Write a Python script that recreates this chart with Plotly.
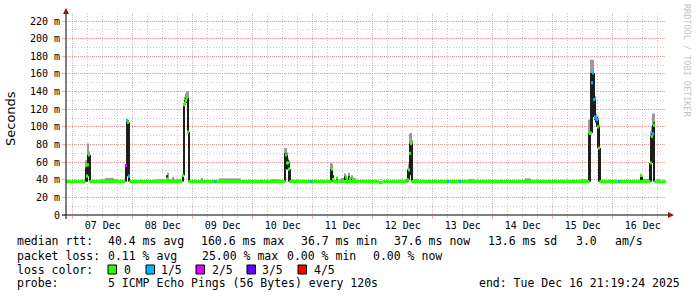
import pandas as pd
import plotly.graph_objects as go

# ---------------- data ----------------
START = "12-06 21:19:24"
END = "12-16 21:19:24"
STEP_MIN = 24          # RRA step shown (minutes per pixel column)

y_ticks = [0, 20, 40, 60, 80, 100, 120, 140, 160, 180, 200, 220]
y_tick_text = ["0", "20 m", "40 m", "60 m", "80 m", "100 m", "120 m", "140 m",
               "160 m", "180 m", "200 m", "220 m"]

loss_labels = ["0", "1/5", "2/5", "3/5", "4/5"]
loss_colors = ["#26ff00", "#00b8ff", "#dd00ff", "#5e00ff", "#ff0000"]

# baseline median segments
base_start = ["12-06 21:19:24", "12-07 06:41", "12-07 22:41", "12-08 22:17", "12-10 14:41",
              "12-11 08:17", "12-12 02:30", "12-12 04:00", "12-12 15:29", "12-15 18:41",
              "12-16 16:41"]
base_end = ["12-07 05:05", "12-07 21:05", "12-08 19:53", "12-10 13:05", "12-11 07:29",
            "12-12 02:30", "12-12 04:00", "12-12 13:53", "12-15 14:41", "12-16 15:05",
            "12-16 21:19:24"]
base_ms = [37.8, 37.8, 37.8, 37.8, 37.8, 37.8, 36.8, 37.8, 37.8, 37.8, 37.6]

# median per step where it departs from the baseline (or shows loss)
med_time = ["12-07 05:17", "12-07 05:41", "12-07 06:05", "12-07 06:29",
            "12-07 21:17", "12-07 21:41", "12-07 22:05", "12-07 22:29",
            "12-08 13:41",
            "12-08 20:05", "12-08 20:29", "12-08 20:53", "12-08 21:17", "12-08 21:41", "12-08 22:05",
            "12-09 08:53",
            "12-10 13:17", "12-10 13:41", "12-10 14:05", "12-10 14:29",
            "12-10 23:17",
            "12-11 07:41", "12-11 08:05", "12-11 09:41", "12-11 13:17", "12-11 14:53", "12-11 16:05",
            "12-12 14:05", "12-12 14:29", "12-12 14:53", "12-12 15:17",
            "12-13 06:05", "12-13 10:53",
            "12-15 14:53", "12-15 15:17", "12-15 15:41", "12-15 16:05", "12-15 16:29",
            "12-15 16:53", "12-15 17:17", "12-15 17:41", "12-15 18:05", "12-15 18:29",
            "12-16 02:29", "12-16 11:17",
            "12-16 15:17", "12-16 15:41", "12-16 16:05", "12-16 16:29"]
med_ms = [56, 44, 57, 68,
          56, 107, 105, 44,
          41,
          45, 125, 127, 130, 133, 94,
          37.8,
          68, 59, 59, 52,
          37.8,
          52, 40.5, 42, 43, 41, 41,
          40, 51, 70, 81,
          37.8, 37.8,
          92.6, 93, 150, 161, 131,
          111, 110, 108, 100, 76,
          37.8, 45,
          59, 89, 92, 102]
med_loss = [0, 0, 0, 0,
            2, 1, 0, 1,
            0,
            0, 0, 0, 0, 0, 0,
            1,
            0, 0, 0, 0,
            1,
            0, 0, 0, 0, 0, 0,
            0, 0, 0, 0,
            1, 1,
            0, 0, 1, 1, 1,
            1, 1, 1, 0, 0,
            1, 0,
            0, 0, 1, 0]

# smoke per step: dense band (lo..hi) and outer ping spread (lo..top)
smoke_time = ["12-07 05:17", "12-07 05:41", "12-07 06:05", "12-07 06:29", "12-07 06:53",
              "12-07 21:17", "12-07 21:41", "12-07 22:05", "12-07 22:29",
              "12-08 13:41", "12-08 14:05",
              "12-08 20:05", "12-08 20:29", "12-08 20:53", "12-08 21:17", "12-08 21:41",
              "12-08 22:05", "12-08 22:29",
              "12-10 12:53", "12-10 13:17", "12-10 13:41", "12-10 14:05", "12-10 14:29", "12-10 14:53",
              "12-11 07:17", "12-11 07:41", "12-11 08:05", "12-11 09:41", "12-11 12:53",
              "12-11 14:29", "12-11 15:41",
              "12-12 13:41", "12-12 14:05", "12-12 14:29", "12-12 14:53", "12-12 15:17", "12-12 15:41",
              "12-15 14:29", "12-15 14:53", "12-15 15:17", "12-15 15:41", "12-15 16:05",
              "12-15 16:29", "12-15 16:53", "12-15 17:17", "12-15 17:41", "12-15 18:05",
              "12-15 18:29", "12-15 18:53",
              "12-16 11:17", "12-16 11:41",
              "12-16 14:53", "12-16 15:17", "12-16 15:41", "12-16 16:05", "12-16 16:29"]
smoke_lo = [38, 38, 44, 57, 38,
            38, 56, 44, 38,
            38, 38,
            38, 45, 125, 127, 130, 94, 38,
            38, 59, 52, 52, 38, 38,
            38, 40, 38, 38, 38, 38, 38,
            38, 38, 40, 51, 45, 38,
            38, 38, 92, 93, 131, 111, 108, 105, 100, 76, 38, 38,
            38, 38,
            38, 38, 59, 89, 38]
smoke_hi = [57, 57, 68, 68, 68,
            56, 107, 107, 105,
            45, 39,
            45, 125, 130, 133, 133, 133, 94,
            70, 70, 68, 62, 59, 52,
            52, 52, 45, 43, 44, 44, 41,
            40, 51, 51, 81, 81, 81,
            92, 93, 161, 161, 161, 161, 131, 111, 111, 108, 100, 76,
            45, 43,
            59, 89, 92, 102, 105]
smoke_top = [62, 60, 81, 72, 68,
             56, 108, 108, 105,
             45, 48,
             46, 127, 134, 138, 140, 140, 94,
             76, 76, 71, 65, 62, 52,
             59, 58, 45, 43, 47, 48, 45,
             41, 53, 58, 92, 93, 85,
             108, 108, 176, 176, 176, 161, 135, 115, 112, 110, 102, 76,
             46, 44,
             59, 95, 100, 115, 115]

# light smoke bumps just above the baseline
bump_start = ["12-07 04:40", "12-07 11:00", "12-07 13:00", "12-07 16:30", "12-08 09:00",
              "12-08 14:30", "12-08 16:05", "12-09 03:30", "12-09 10:30", "12-10 07:15",
              "12-10 15:15", "12-11 11:15", "12-12 11:15", "12-12 16:05", "12-13 14:30",
              "12-14 12:50", "12-15 11:15", "12-16 12:05", "12-16 17:40"]
bump_end = ["12-07 05:05", "12-07 13:00", "12-07 16:30", "12-07 18:00", "12-08 13:00",
            "12-08 19:30", "12-08 16:30", "12-09 03:55", "12-09 19:15", "12-10 10:30",
            "12-10 19:15", "12-11 17:15", "12-12 13:15", "12-12 18:30", "12-13 16:30",
            "12-14 15:15", "12-15 14:05", "12-16 14:30", "12-16 18:55"]
bump_top = [40, 40.5, 42, 40.5, 40.5, 40.5, 43, 42, 41.5, 40.5,
            40, 42, 40, 40.5, 40.5, 41.5, 40.5, 41, 40.5]

stats_rows = [
    [(16, "median rtt:"), (107, "40.4 ms avg"), (200, "160.6 ms max"), (300, "36.7 ms min"),
     (393, "37.6 ms now"), (487, "13.6 ms sd"), (575, "3.0"), (614, "am/s")],
    [(16, "packet loss:"), (107, "0.11 % avg"), (201, "25.00 % max"), (286, "0.00 % min"),
     (372, "0.00 % now")],
    [(16, "loss color:")],
    [(16, "probe:"), (107, "5 ICMP Echo Pings (56 Bytes) every 120s"),
     (478, "end: Tue Dec 16 21:19:24 2025")],
]
row_y = [241.5, 255.5, 269.5, 283]
loss_box_x = [108, 146, 196, 247, 298]
loss_text_x = [123, 160, 211, 261, 313]

# ---------------- figure ----------------
W, H = 697, 297
L, R, TOP, BOT = 66, 31, 13, 82
PW, PH = W - L - R, H - TOP - BOT


def T(s):
    return pd.Timestamp("2025-" + s)


def px(x):
    return (x - L) / PW


def py(y):
    return (H - BOT - y) / PH


step_ms = STEP_MIN * 60 * 1000
MED_H = 3.6  # drawn thickness of the median (ms)

fig = go.Figure()

# light smoke
g_x, g_base, g_h, g_w = [], [], [], []
for t, lo, top in zip(smoke_time, smoke_lo, smoke_top):
    g_x.append(T(t)); g_base.append(lo); g_h.append(top - lo); g_w.append(step_ms)
for s, e, top in zip(bump_start, bump_end, bump_top):
    ts, te = T(s), T(e)
    g_x.append(ts + (te - ts) / 2); g_base.append(37); g_h.append(top - 37)
    g_w.append((te - ts).total_seconds() * 1000)
fig.add_trace(go.Bar(x=g_x, y=g_h, base=g_base, width=g_w,
                     marker=dict(color="#9a9a9a", line=dict(width=0)), hoverinfo="skip"))

# dense smoke
fig.add_trace(go.Bar(x=[T(t) for t in smoke_time],
                     y=[h - l for l, h in zip(smoke_lo, smoke_hi)], base=smoke_lo,
                     width=[step_ms * 1.3] * len(smoke_time),
                     marker=dict(color="#1e1e1e", line=dict(width=0)), hoverinfo="skip"))

# baseline median
b_x, b_w = [], []
for s, e in zip(base_start, base_end):
    ts, te = T(s), T(e)
    b_x.append(ts + (te - ts) / 2); b_w.append((te - ts).total_seconds() * 1000)
fig.add_trace(go.Bar(x=b_x, y=[MED_H] * len(b_x), base=[v - MED_H / 2 for v in base_ms],
                     width=b_w, marker=dict(color=loss_colors[0], line=dict(width=0)),
                     hoverinfo="skip"))

# median per step, coloured by loss
for li, col in enumerate(loss_colors):
    xs = [T(t) for t, l in zip(med_time, med_loss) if l == li]
    vs = [v for v, l in zip(med_ms, med_loss) if l == li]
    if not xs:
        continue
    fig.add_trace(go.Bar(x=xs, y=[MED_H] * len(xs), base=[v - MED_H / 2 for v in vs],
                         width=[step_ms] * len(xs),
                         marker=dict(color=col, line=dict(width=0)), hoverinfo="skip"))

MONO = "DejaVu Sans Mono"
LEG_FS = 11.5
ann = []
for row, yy in zip(stats_rows, row_y):
    for xx, txt in row:
        ann.append(dict(x=px(xx), y=py(yy), xref="paper", yref="paper", text=txt,
                        showarrow=False, xanchor="left", yanchor="middle",
                        font=dict(family=MONO, size=LEG_FS, color="#000"), borderpad=0))
shapes = []
for bx, tx, lab, col in zip(loss_box_x, loss_text_x, loss_labels, loss_colors):
    shapes.append(dict(type="rect", xref="paper", yref="paper",
                       x0=px(bx), x1=px(bx + 8.5), y0=py(row_y[2] + 4.5), y1=py(row_y[2] - 4.5),
                       fillcolor=col, line=dict(color="#000", width=1)))
    ann.append(dict(x=px(tx), y=py(row_y[2]), xref="paper", yref="paper", text=lab,
                    showarrow=False, xanchor="left", yanchor="middle",
                    font=dict(family=MONO, size=LEG_FS, color="#000"), borderpad=0))

ann.append(dict(x=px(10), y=py(119), xref="paper", yref="paper", text="Seconds",
                textangle=-90, showarrow=False, xanchor="center", yanchor="middle",
                font=dict(family="DejaVu Sans", size=13, color="#000")))
ann.append(dict(x=px(687), y=py(60), xref="paper", yref="paper",
                text="RRDTOOL / TOBI OETIKER", textangle=90, showarrow=False,
                xanchor="center", yanchor="middle",
                font=dict(family=MONO, size=8.5, color="#c4c4c4")))

# axes with arrows
AX = "#000000"
ARR = "#9b1010"
shapes += [
    dict(type="line", xref="paper", yref="paper", x0=px(62), x1=px(670), y0=0, y1=0,
         line=dict(color=AX, width=1)),
    dict(type="line", xref="paper", yref="paper", x0=0, x1=0, y0=py(219), y1=py(12),
         line=dict(color=AX, width=1)),
    dict(type="path", xref="paper", yref="paper",
         path=f"M {px(668)} {py(212)} L {px(674)} {py(215)} L {px(668)} {py(218)} Z",
         fillcolor=ARR, line=dict(color=ARR, width=0)),
    dict(type="path", xref="paper", yref="paper",
         path=f"M {px(63)} {py(14)} L {px(66)} {py(8)} L {px(69)} {py(14)} Z",
         fillcolor=ARR, line=dict(color=ARR, width=0)),
]

MAJ = "rgba(230,70,70,0.45)"
MIN = "rgba(150,150,150,0.5)"
fig.update_layout(
    width=W, height=H, margin=dict(l=L, r=R, t=TOP, b=BOT, pad=0),
    paper_bgcolor="#ffffff", plot_bgcolor="#ffffff",
    showlegend=False, hovermode=False, barmode="overlay",
    annotations=ann, shapes=shapes,
    xaxis=dict(type="date", range=[T(START), T(END)], tick0=T("12-07 00:00"), dtick=86400000,
               ticklabelmode="period", tickformat="%d %b",
               showgrid=True, gridcolor=MAJ, griddash="1px,1px", gridwidth=1,
               ticks="outside", ticklen=3, tickcolor=MAJ, ticklabelstandoff=-2,
               tickfont=dict(family=MONO, size=10, color="#000"),
               showline=False, zeroline=False, fixedrange=True,
               minor=dict(dtick=6 * 3600 * 1000, tick0=T("12-07 00:00"), showgrid=True,
                          gridcolor=MIN, griddash="1px,2px", gridwidth=1,
                          ticks="outside", ticklen=2, tickcolor=MIN)),
    yaxis=dict(range=[0, PH / (194 / 220)], tickmode="array", tickvals=y_ticks,
               ticktext=y_tick_text, showgrid=True, gridcolor=MAJ, griddash="1px,1px",
               gridwidth=1, ticks="outside", ticklen=3, tickcolor=MAJ,
               tickfont=dict(family=MONO, size=10, color="#000"),
               showline=False, zeroline=False, fixedrange=True,
               minor=dict(dtick=10, tick0=0, showgrid=True, gridcolor=MIN,
                          griddash="1px,2px", gridwidth=1)),
)

fig.write_html("out.html")
